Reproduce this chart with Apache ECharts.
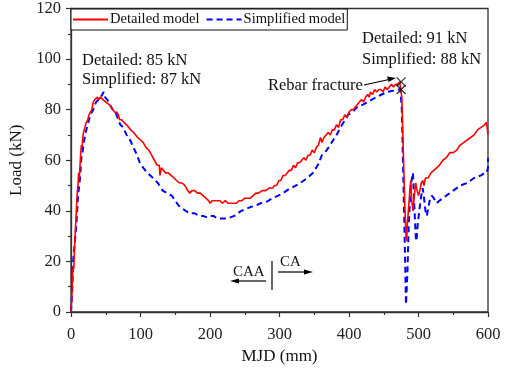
<!DOCTYPE html>
<html>
<head>
<meta charset="utf-8">
<script src="https://cdn.jsdelivr.net/npm/echarts@6/dist/echarts.min.js"></script>
<style>html,body{margin:0;padding:0;background:#fff}#c{width:511px;height:370px}</style>
</head>
<body>
<div id="c"></div>
<script>
// Detailed model (red)
const detX = [0,1,2,3,4,5,6,7,8,9,10,11,12,13,14,15,16,17,18,20,22,24,26,28,30,32,34,36,38,40,42,44,46,48,50,52,55,58,60,63,66,68,70,73,76,80,83,86,90,93,96,100,104,108,112,116,120,124,127,128,130,133,136,140,144,148,152,156,160,164,168,171,174,178,182,186,190,194,198,200,203,206,210,214,218,222,226,230,234,238,242,246,250,254,258,262,266,270,275,280,285,290,293,296,299,302,305,308,311,314,317,320,323,326,329,332,335,338,341,344,347,350,353,356,359,361,364,367,370,373,376,379,382,385,388,391,394,397,400,403,406,409,412,415,418,421,424,427,429,431,434,437,440,443,446,449,452,455,458,461,464,467,470,473,475,476,478,480,482,483,484,486,488,489,490,492,494,496,498,500,502,504,506,508,510,514,518,522,526,530,535,540,545,550,555,560,565,570,575,580,585,590,595,598,599,600];
const detY = [0,5,12,18,17,25,31,36,42,47,50,55,53,58,63,66,65,69,71,73,75,76,78,78,80,83,84,84,85,84,85,85,84,84,83,83,82,81,81,79,79,78,76,76,75,74,73,72,71,70,69,68,67,65,64,62,60,58,58,54,57,56,55,55,54,53,52,51,51,50,48,47,48,48,47,47,46,45,44,43,44,44,44,44,43,44,43,43,43,43,44,44,45,45,45,46,47,47,48,48,49,49,50,50,52,52,54,54,55,56,56,58,57,59,59,60,61,60,62,62,64,63,65,66,69,67,69,70,71,70,72,72,74,73,76,76,78,77,79,80,80,81,82,83,84,83,85,86,85,87,86,88,87,88,88,87,89,88,89,90,89,90,90,91,91,85,65,45,30,28,35,42,50,52,45,40,46,51,48,46,48,51,52,50,53,53,55,56,57,58,60,61,63,63,64,66,67,68,69,70,72,73,74,75,75,70];
// Simplified model (blue)
const simX = [0,2,3,5,6,8,10,11,13,15,17,19,22,25,28,32,36,40,43,45,47,49,52,56,60,64,68,71,75,80,85,90,95,99,104,110,118,125,132,138,145,150,155,160,165,171,178,185,190,195,200,205,210,215,220,225,230,235,240,245,250,258,265,273,281,290,298,305,313,320,330,340,348,355,361,368,375,382,390,399,405,412,420,427,433,440,447,455,463,470,474,476,478,480,482,484,486,488,490,492,494,496,497,499,502,504,506,508,510,512,514,516,519,522,526,530,535,540,545,550,555,560,565,570,575,580,585,590,595,598,600,600];
const simY = [0,10,20,26,29,36,45,48,53,61,64,68,72,75,78,80,83,84,85,86,87,85,84,82,80,79,76,74,73,70,68,65,62,59,57,55,53,51,48,47,46,44,42,41,40,39,39,38,38,37.5,38,38,37,37,37,37,37.5,38,39,40,40.5,41.5,42,43,43.5,45,46,47,48.5,49.5,51,53,55,58,62,64,67,70,74,78,79,81,82,83,84,85,86,87,87.5,88,88,80,55,30,3,15,35,45,52,55,42,30,28,35,42,46,49,45,40,38,41,44,46,45,43,44,45,46,47,48,49,50,50.5,51,52,53,53.5,54,55,55,57,61];
// Fracture markers
const fracX = [475, 475];
const fracY = [91, 88];
const xTicks = [0,100,200,300,400,500,600];
const yTicks = [0,20,40,60,80,100,120];

const zip = (a,b)=>a.map((v,i)=>[v,b[i]]);
const font = 'Liberation Serif, Times New Roman, serif';
const chart = echarts.init(document.getElementById('c'), null, {renderer:'canvas'});
const axisCommon = {
  axisLine:{show:true,lineStyle:{color:'#333',width:1.3}},
  axisTick:{show:true,inside:false,length:5,lineStyle:{color:'#333',width:1.2}},
  minorTick:{show:true,splitNumber:2,length:3,lineStyle:{color:'#333',width:1.2}},
  splitLine:{show:false},
  axisLabel:{color:'#222',fontFamily:font,fontSize:16.5},
  nameTextStyle:{color:'#111',fontFamily:font,fontSize:17}
};
chart.setOption({
  animation:false,
  backgroundColor:'#fff',
  grid:{left:71,right:23,top:8,bottom:58,show:true,borderColor:'#333',borderWidth:1.3,containLabel:false},
  legend:{
    data:['Detailed model','Simplified model'],
    left:71,top:9,itemWidth:35,itemHeight:10,itemGap:6,
    padding:[3,2,3,1],
    borderColor:'#111',borderWidth:1,backgroundColor:'#fff',
    itemStyle:{opacity:0},
    textStyle:{fontFamily:font,fontSize:14.6,color:'#111',padding:[0,0,0,-3]}
  },
  xAxis:Object.assign({}, axisCommon, {
    type:'value',min:xTicks[0],max:xTicks[xTicks.length-1],interval:100,
    name:'MJD (mm)',nameLocation:'middle',nameGap:29,
    axisLabel:Object.assign({},axisCommon.axisLabel,{margin:14})
  }),
  yAxis:Object.assign({}, axisCommon, {
    type:'value',min:yTicks[0],max:yTicks[yTicks.length-1],interval:20,
    name:'Load (kN)',nameLocation:'middle',nameGap:40,
    axisLabel:Object.assign({},axisCommon.axisLabel,{margin:10})
  }),
  series:[
    {name:'Detailed model',type:'line',data:zip(detX,detY),showSymbol:false,symbol:'none',
     lineStyle:{color:'#ff0000',width:1.6},itemStyle:{color:'#ff0000'},z:3},
    {name:'Simplified model',type:'line',data:zip(simX,simY),showSymbol:false,symbol:'none',
     lineStyle:{color:'#0000ff',width:2,type:[6,4]},itemStyle:{color:'#0000ff'},z:2},
    {name:'fracture',type:'scatter',data:zip(fracX,fracY),
     symbol:'path://M0,0L10,10M10,0L0,10',symbolSize:9,
     itemStyle:{color:'none',borderColor:'#000',borderWidth:1.3},z:5}
  ],
  graphic:[
    {type:'text',left:82,top:52,style:{text:'Detailed: 85 kN',font:'16.5px '+font,fill:'#111'}},
    {type:'text',left:82,top:71,style:{text:'Simplified: 87 kN',font:'16.5px '+font,fill:'#111'}},
    {type:'text',left:362,top:30,style:{text:'Detailed: 91 kN',font:'16.5px '+font,fill:'#111'}},
    {type:'text',left:362,top:51,style:{text:'Simplified: 88 kN',font:'16.5px '+font,fill:'#111'}},
    {type:'text',left:268,top:77,style:{text:'Rebar fracture',font:'16.5px '+font,fill:'#111'}},
    {type:'line',shape:{x1:364,y1:85,x2:389,y2:79.5},style:{stroke:'#000',lineWidth:1.2}},
    {type:'polygon',shape:{points:[[396,78],[387,76.5],[388.5,82]]},style:{fill:'#000'}},
    {type:'text',left:233,top:265,style:{text:'CAA',font:'15px '+font,fill:'#111'}},
    {type:'line',shape:{x1:237,y1:281,x2:266,y2:281},style:{stroke:'#000',lineWidth:1.2}},
    {type:'polygon',shape:{points:[[230,281],[239,278.5],[239,283.5]]},style:{fill:'#000'}},
    {type:'line',shape:{x1:272,y1:261,x2:272,y2:290},style:{stroke:'#000',lineWidth:1.2}},
    {type:'text',left:280,top:255,style:{text:'CA',font:'15px '+font,fill:'#111'}},
    {type:'line',shape:{x1:278,y1:272,x2:306,y2:272},style:{stroke:'#000',lineWidth:1.2}},
    {type:'polygon',shape:{points:[[313,272],[304,269.5],[304,274.5]]},style:{fill:'#000'}}
  ]
});
</script>
</body>
</html>
